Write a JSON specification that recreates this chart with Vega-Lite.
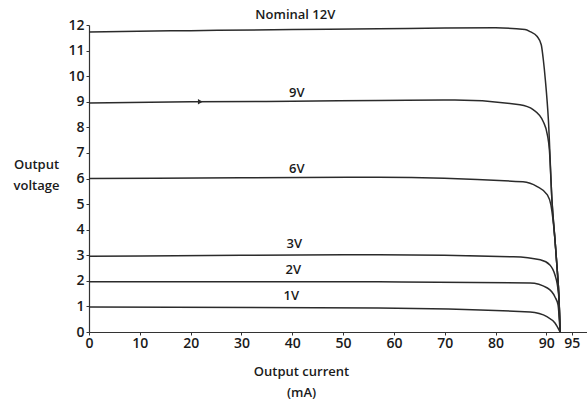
{
  "$schema": "https://vega.github.io/schema/vega-lite/v6.json",
  "autosize": {"type": "none"},
  "width": 498,
  "height": 307,
  "padding": {"left": 89, "top": 25, "right": 0, "bottom": 71},
  "background": "white",
  "config": {
    "view": {"stroke": null},
    "font": "Open Sans",
    "axis": {"grid": false, "domainColor": "#333", "tickColor": "#333", "labelColor": "#1a1a1a", "titleColor": "#1a1a1a", "labelFont": "Open Sans", "titleFont": "Open Sans", "labelFontSize": 14, "titleFontSize": 13, "labelFontWeight": 600, "titleFontWeight": 600, "domainWidth": 1.2}
  },
  "datasets": {
    "curves": [
      {"series": "12V", "current": 0, "voltage": 11.73},
      {"series": "12V", "current": 20, "voltage": 11.78},
      {"series": "12V", "current": 40, "voltage": 11.82},
      {"series": "12V", "current": 57, "voltage": 11.85},
      {"series": "12V", "current": 70, "voltage": 11.88},
      {"series": "12V", "current": 80, "voltage": 11.89},
      {"series": "12V", "current": 85.8, "voltage": 11.82},
      {"series": "12V", "current": 86.8, "voltage": 11.74},
      {"series": "12V", "current": 88.2, "voltage": 11.55},
      {"series": "12V", "current": 89.0, "voltage": 11.23},
      {"series": "12V", "current": 89.4, "voltage": 10.65},
      {"series": "12V", "current": 89.8, "voltage": 9.86},
      {"series": "12V", "current": 90.4, "voltage": 8.3},
      {"series": "12V", "current": 91.1, "voltage": 5.17},
      {"series": "12V", "current": 91.7, "voltage": 3.6},
      {"series": "12V", "current": 92.1, "voltage": 2.54},
      {"series": "12V", "current": 92.5, "voltage": 1.25},
      {"series": "12V", "current": 92.7, "voltage": 0},

      {"series": "9V", "current": 0, "voltage": 8.95},
      {"series": "9V", "current": 20, "voltage": 9.0},
      {"series": "9V", "current": 40, "voltage": 9.02},
      {"series": "9V", "current": 57, "voltage": 9.05},
      {"series": "9V", "current": 72, "voltage": 9.07},
      {"series": "9V", "current": 84.8, "voltage": 8.88},
      {"series": "9V", "current": 87.4, "voltage": 8.69},
      {"series": "9V", "current": 89.4, "voltage": 8.22},
      {"series": "9V", "current": 90.2, "voltage": 7.71},
      {"series": "9V", "current": 90.6, "voltage": 7.12},
      {"series": "9V", "current": 91.1, "voltage": 5.17},
      {"series": "9V", "current": 91.7, "voltage": 3.6},
      {"series": "9V", "current": 92.1, "voltage": 2.54},
      {"series": "9V", "current": 92.5, "voltage": 1.25},
      {"series": "9V", "current": 92.7, "voltage": 0},

      {"series": "6V", "current": 0, "voltage": 6.0},
      {"series": "6V", "current": 30, "voltage": 6.03},
      {"series": "6V", "current": 57, "voltage": 6.05},
      {"series": "6V", "current": 85.4, "voltage": 5.87},
      {"series": "6V", "current": 88.2, "voltage": 5.68},
      {"series": "6V", "current": 90.2, "voltage": 5.36},
      {"series": "6V", "current": 90.9, "voltage": 4.97},
      {"series": "6V", "current": 91.7, "voltage": 3.6},
      {"series": "6V", "current": 92.1, "voltage": 2.54},
      {"series": "6V", "current": 92.5, "voltage": 1.25},
      {"series": "6V", "current": 92.7, "voltage": 0},

      {"series": "3V", "current": 0, "voltage": 2.96},
      {"series": "3V", "current": 30, "voltage": 3.0},
      {"series": "3V", "current": 57, "voltage": 3.02},
      {"series": "3V", "current": 83.5, "voltage": 2.94},
      {"series": "3V", "current": 88.8, "voltage": 2.82},
      {"series": "3V", "current": 90.7, "voltage": 2.62},
      {"series": "3V", "current": 91.7, "voltage": 2.23},
      {"series": "3V", "current": 92.1, "voltage": 1.92},
      {"series": "3V", "current": 92.5, "voltage": 1.25},
      {"series": "3V", "current": 92.7, "voltage": 0},

      {"series": "2V", "current": 0, "voltage": 1.96},
      {"series": "2V", "current": 57, "voltage": 1.96},
      {"series": "2V", "current": 86.8, "voltage": 1.92},
      {"series": "2V", "current": 90.2, "voltage": 1.72},
      {"series": "2V", "current": 91.7, "voltage": 1.37},
      {"series": "2V", "current": 92.3, "voltage": 1.06},
      {"series": "2V", "current": 92.7, "voltage": 0},

      {"series": "1V", "current": 0, "voltage": 0.98},
      {"series": "1V", "current": 57, "voltage": 0.94},
      {"series": "1V", "current": 86.8, "voltage": 0.78},
      {"series": "1V", "current": 90.2, "voltage": 0.59},
      {"series": "1V", "current": 91.7, "voltage": 0.35},
      {"series": "1V", "current": 92.7, "voltage": 0}
    ],
    "labels": [
      {"text": "Nominal 12V", "current": 40.6, "voltage": 12.4},
      {"text": "9V", "current": 40.9, "voltage": 9.35},
      {"text": "6V", "current": 40.9, "voltage": 6.38},
      {"text": "3V", "current": 40.4, "voltage": 3.44},
      {"text": "2V", "current": 40.2, "voltage": 2.43},
      {"text": "1V", "current": 39.8, "voltage": 1.41}
    ],
    "arrow": [
      {"current": 21.9, "voltage": 9.0}
    ]
  },
  "encoding": {
    "x": {"field": "current", "type": "quantitative", "scale": {"domain": [0, 98], "nice": false},
      "axis": {"values": [0, 10, 20, 30, 40, 50, 60, 70, 80, 90, 95], "tickSize": 3, "labelPadding": 1, "labelOverlap": false, "labelFlush": false,
        "title": ["Output current", "(mA)"], "titleX": 212, "titleY": 33, "titleBaseline": "top", "titleLineHeight": 21, "titleAlign": "center", "titleAnchor": null}},
    "y": {"field": "voltage", "type": "quantitative", "scale": {"domain": [0, 12], "nice": false},
      "axis": {"values": [0, 1, 2, 3, 4, 5, 6, 7, 8, 9, 10, 11, 12], "tickSize": 3, "labelPadding": 2, "labelOverlap": false, "labelFlush": false,
        "title": ["Output", "voltage"], "titleAngle": 0, "titleX": -53, "titleY": 133, "titleBaseline": "top", "titleLineHeight": 21, "titleAlign": "center", "titleAnchor": null}}
  },
  "layer": [
    {
      "data": {"name": "curves"},
      "mark": {"type": "line", "interpolate": "monotone", "color": "#2b2b2b", "strokeWidth": 1.5},
      "encoding": {
        "detail": {"field": "series"}
      }
    },
    {
      "data": {"name": "labels"},
      "mark": {"type": "text", "fontSize": 13, "fontWeight": 600, "font": "Open Sans", "color": "#1a1a1a", "baseline": "middle", "align": "center"},
      "encoding": {
        "text": {"field": "text"}
      }
    },
    {
      "data": {"name": "arrow"},
      "mark": {"type": "point", "shape": "triangle-right", "filled": true, "size": 30, "color": "#2b2b2b", "opacity": 1},
      "encoding": {}
    }
  ]
}
